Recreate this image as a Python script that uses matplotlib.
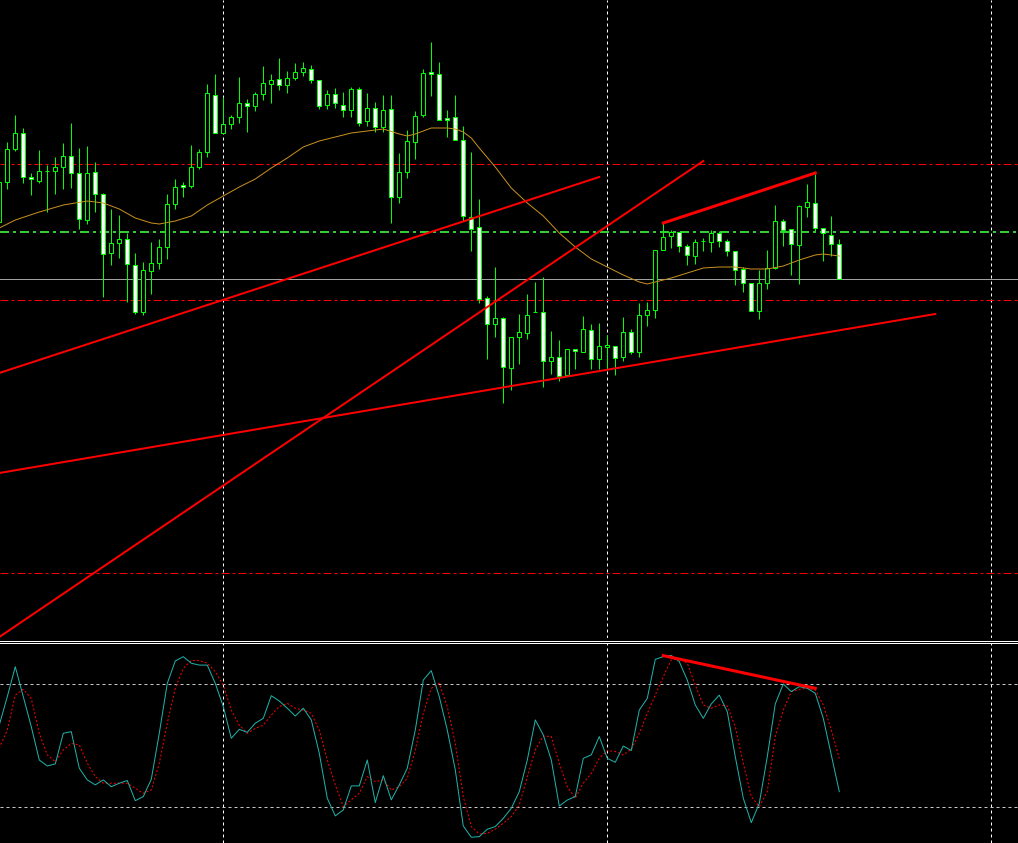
import matplotlib
matplotlib.use('Agg')
import matplotlib.pyplot as plt
from matplotlib.lines import Line2D

plt.rcParams['lines.scale_dashes'] = False
PX = 0.72  # one screen pixel in points at dpi 100

# candles, bar 0 = leftmost bar on screen
opens = [1.1418, 1.1458, 1.1491, 1.1507, 1.1463, 1.1459, 1.1469, 1.1469, 1.1473, 1.1484,
         1.1467, 1.1420, 1.1468, 1.1446, 1.1387, 1.1397, 1.1401, 1.1375, 1.1328, 1.1369,
         1.1377, 1.1393, 1.1436, 1.1455, 1.1454, 1.1473, 1.1488, 1.1545, 1.1507, 1.1516,
         1.1523, 1.1537, 1.1534, 1.1546, 1.1556, 1.1561, 1.1555, 1.1562, 1.1568, 1.1571,
         1.1560, 1.1535, 1.1546, 1.1535, 1.1530, 1.1551, 1.1519, 1.1532, 1.1513, 1.1531,
         1.1443, 1.1468, 1.1498, 1.1525, 1.1568, 1.1566, 1.1522, 1.1523, 1.1500, 1.1423,
         1.1413, 1.1342, 1.1316, 1.1322, 1.1272, 1.1303, 1.1307, 1.1328, 1.1328, 1.1279,
         1.1283, 1.1265, 1.1291, 1.1288, 1.1310, 1.1281, 1.1293, 1.1294, 1.1283, 1.1308,
         1.1288, 1.1325, 1.1330, 1.1390, 1.1404, 1.1408, 1.1394, 1.1384, 1.1399, 1.1398,
         1.1407, 1.1399, 1.1389, 1.1371, 1.1357, 1.1329, 1.1357, 1.1372, 1.1419, 1.1411,
         1.1395, 1.1433, 1.1437, 1.1412, 1.1405, 1.1396]
highs = [1.1460, 1.1498, 1.1525, 1.1512, 1.1467, 1.1490, 1.1475, 1.1483, 1.1497, 1.1517,
         1.1492, 1.1494, 1.1478, 1.1447, 1.1431, 1.1425, 1.1407, 1.1387, 1.1378, 1.1398,
         1.1401, 1.1446, 1.1461, 1.1458, 1.1495, 1.1491, 1.1556, 1.1566, 1.1543, 1.1525,
         1.1563, 1.1541, 1.1548, 1.1574, 1.1566, 1.1582, 1.1569, 1.1577, 1.1578, 1.1575,
         1.1560, 1.1550, 1.1552, 1.1548, 1.1553, 1.1553, 1.1547, 1.1538, 1.1545, 1.1545,
         1.1487, 1.1510, 1.1529, 1.1571, 1.1598, 1.1578, 1.1530, 1.1545, 1.1514, 1.1488,
         1.1441, 1.1344, 1.1373, 1.1323, 1.1303, 1.1326, 1.1346, 1.1358, 1.1363, 1.1309,
         1.1300, 1.1291, 1.1291, 1.1324, 1.1316, 1.1317, 1.1305, 1.1294, 1.1323, 1.1311,
         1.1337, 1.1338, 1.1390, 1.1417, 1.1410, 1.1408, 1.1396, 1.1401, 1.1402, 1.1410,
         1.1409, 1.1401, 1.1389, 1.1373, 1.1357, 1.1370, 1.1390, 1.1435, 1.1421, 1.1411,
         1.1435, 1.1456, 1.1466, 1.1412, 1.1424, 1.1401]
lows = [1.1415, 1.1451, 1.1489, 1.1457, 1.1445, 1.1457, 1.1428, 1.1446, 1.1451, 1.1452,
        1.1411, 1.1416, 1.1428, 1.1343, 1.1375, 1.1382, 1.1338, 1.1326, 1.1325, 1.1346,
        1.1371, 1.1381, 1.1431, 1.1443, 1.1452, 1.1471, 1.1483, 1.1507, 1.1507, 1.1511,
        1.1517, 1.1508, 1.1529, 1.1540, 1.1537, 1.1550, 1.1547, 1.1560, 1.1564, 1.1557,
        1.1531, 1.1531, 1.1532, 1.1523, 1.1523, 1.1514, 1.1514, 1.1508, 1.1508, 1.1417,
        1.1437, 1.1462, 1.1481, 1.1523, 1.1544, 1.1520, 1.1503, 1.1500, 1.1419, 1.1389,
        1.1337, 1.1281, 1.1303, 1.1237, 1.1250, 1.1276, 1.1301, 1.1328, 1.1253, 1.1266,
        1.1259, 1.1265, 1.1271, 1.1288, 1.1271, 1.1271, 1.1271, 1.1265, 1.1279, 1.1286,
        1.1283, 1.1314, 1.1322, 1.1390, 1.1392, 1.1388, 1.1375, 1.1376, 1.1389, 1.1388,
        1.1393, 1.1384, 1.1355, 1.1348, 1.1329, 1.1321, 1.1351, 1.1371, 1.1394, 1.1365,
        1.1356, 1.1423, 1.1409, 1.1379, 1.1384, 1.1361]
closes = [1.1458, 1.1491, 1.1507, 1.1463, 1.1461, 1.1469, 1.1469, 1.1473, 1.1484, 1.1467,
          1.1421, 1.1467, 1.1446, 1.1386, 1.1397, 1.1401, 1.1376, 1.1328, 1.1370, 1.1377,
          1.1393, 1.1436, 1.1453, 1.1453, 1.1473, 1.1488, 1.1547, 1.1507, 1.1516, 1.1523,
          1.1537, 1.1534, 1.1546, 1.1557, 1.1560, 1.1555, 1.1562, 1.1568, 1.1572, 1.1560,
          1.1534, 1.1546, 1.1537, 1.1530, 1.1551, 1.1517, 1.1532, 1.1513, 1.1530, 1.1443,
          1.1468, 1.1499, 1.1524, 1.1567, 1.1566, 1.1520, 1.1520, 1.1500, 1.1424, 1.1411,
          1.1341, 1.1316, 1.1322, 1.1273, 1.1303, 1.1308, 1.1325, 1.1328, 1.1279, 1.1283,
          1.1264, 1.1291, 1.1289, 1.1311, 1.1281, 1.1294, 1.1295, 1.1282, 1.1308, 1.1288,
          1.1325, 1.1330, 1.1390, 1.1403, 1.1408, 1.1394, 1.1385, 1.1398, 1.1399, 1.1407,
          1.1399, 1.1389, 1.1370, 1.1357, 1.1329, 1.1357, 1.1372, 1.1419, 1.1410, 1.1396,
          1.1434, 1.1438, 1.1412, 1.1407, 1.1396, 1.1361]

# moving average read at some bars
ma_bars = [0, 2, 5, 8, 11, 13, 15, 17, 19, 20, 22, 24, 26, 28, 30, 32, 34, 36, 38, 40,
           42, 44, 46, 48, 50, 51, 52, 54, 56, 57, 58, 59, 60, 62, 64, 66, 68, 70, 72, 74,
           76, 78, 80, 81, 82, 84, 86, 88, 90, 92, 94, 96, 98, 100, 102, 103, 105]
ma_vals = [1.1412, 1.1420, 1.1428, 1.1435, 1.1439, 1.1437, 1.1431, 1.1422, 1.1417, 1.1416,
           1.1419, 1.1424, 1.1435, 1.1444, 1.1453, 1.1461, 1.1472, 1.1482, 1.1493, 1.1499,
           1.1503, 1.1507, 1.1509, 1.1511, 1.1506, 1.1504, 1.1506, 1.1512, 1.1512, 1.1511,
           1.1508, 1.1502, 1.1492, 1.1473, 1.1452, 1.1437, 1.1424, 1.1407, 1.1393, 1.1381,
           1.1373, 1.1365, 1.1358, 1.1356, 1.1358, 1.1362, 1.1367, 1.1372, 1.1373, 1.1373,
           1.1371, 1.1371, 1.1374, 1.1380, 1.1385, 1.1386, 1.1384]

# stochastic oscillator, one value per bar
stoch_main = [60.0, 73.8, 88.4, 73.8, 59.2, 43.0, 40.1, 41.1, 56.0, 56.8,
              39.0, 33.3, 30.9, 33.3, 30.0, 31.7, 33.0, 23.2, 25.2, 33.6,
              56.0, 80.3, 91.2, 93.3, 90.1, 89.2, 89.2, 80.3, 69.0, 53.6,
              57.9, 56.5, 60.9, 63.3, 74.3, 71.7, 68.2, 64.4, 68.2, 62.5,
              46.3, 24.4, 15.8, 18.7, 30.4, 30.4, 43.0, 22.3, 35.4, 23.6,
              30.9, 39.0, 57.6, 81.9, 86.5, 73.8, 57.6, 38.2, 10.9, 5.4,
              5.7, 9.3, 10.6, 14.6, 19.5, 27.6, 43.0, 62.5, 55.2, 43.0,
              20.6, 23.5, 25.2, 43.8, 45.5, 54.4, 43.8, 41.9, 49.8, 47.6,
              67.3, 73.0, 92.0, 93.3, 93.9, 90.9, 81.9, 69.8, 63.3, 70.3,
              74.6, 66.5, 44.6, 24.4, 12.5, 21.9, 44.6, 70.3, 80.0, 76.3,
              78.7, 77.9, 75.5, 63.3, 45.5, 27.6]
stoch_signal = [48.7, 57.6, 74.6, 77.4, 73.0, 56.0, 45.5, 42.2, 47.9, 51.1,
                50.3, 41.4, 34.9, 31.7, 31.7, 31.7, 31.7, 29.2, 26.8, 28.4,
                41.4, 60.9, 77.9, 87.6, 91.4, 91.4, 90.1, 86.0, 79.5, 67.3,
                60.0, 56.0, 58.4, 60.0, 64.9, 69.0, 70.6, 68.2, 67.3, 65.7,
                57.6, 43.0, 30.9, 20.3, 23.6, 26.8, 34.9, 32.5, 33.3, 28.4,
                30.0, 34.1, 47.9, 65.7, 77.9, 80.3, 69.0, 51.1, 25.2, 10.6,
                7.0, 7.3, 9.3, 12.2, 15.4, 21.1, 34.9, 47.9, 54.7, 54.4,
                41.4, 30.0, 24.4, 31.7, 36.5, 43.8, 47.6, 47.1, 45.5, 48.2,
                56.0, 65.7, 74.6, 83.6, 91.7, 92.5, 90.1, 79.5, 69.8, 68.2,
                69.8, 69.3, 59.2, 41.4, 25.2, 20.3, 27.6, 54.4, 67.3, 76.3,
                77.4, 77.9, 77.1, 69.8, 57.6, 43.8]

# horizontal objects on the price chart
red_levels = [1.1476, 1.1340, 1.1067]
green_level = 1.1408
bid_price = 1.1361

# trend lines as (bar, price) pairs
trend_lines = [((0, 1.1267), (75, 1.1463)),
               ((0, 1.1003), (88, 1.1479)),
               ((0, 1.1167), (117, 1.1326))]
price_div_line = ((83, 1.1417), (102, 1.1467))
stoch_div_line = ((83, 93.8), (102, 77.9))

grid_bars = [28, 76, 124]
stoch_levels = [80, 20]

fig = plt.figure(figsize=(10.18, 8.43), dpi=100, facecolor='black')
ax = fig.add_axes([0, 205 / 843, 1, 638 / 843])
ax2 = fig.add_axes([0, 0, 1, 200 / 843])
for a in (ax, ax2):
    a.set_xlim(0.09, 127.34)
    a.axis('off')
    for b in grid_bars:
        a.axvline(b, color='white', lw=PX, dashes=(3 * PX, 3 * PX), zorder=1)
ax.set_ylim(1.1002, 1.1640)
ax2.set_ylim(2.6, 99.95)

# price panel
for lv in red_levels:
    ax.axhline(lv, color='red', lw=PX, dashes=(8 * PX, 3 * PX, 3 * PX, 3 * PX), zorder=2)
ax.axhline(green_level, color='#32CD32', lw=2 * PX, dashes=(9 * PX, 4 * PX, 3 * PX, 4 * PX), zorder=2)
ax.axhline(bid_price, color='#A0A0A0', lw=PX, zorder=2)

bars = list(range(len(opens)))
ax.vlines(bars, lows, highs, color='#00FF00', lw=PX, zorder=3)
bottoms = [min(o, c) for o, c in zip(opens, closes)]
heights = [abs(c - o) for o, c in zip(opens, closes)]
faces = ['white' if c < o else 'black' for o, c in zip(opens, closes)]
ax.bar(bars, heights, bottom=bottoms, width=0.55, color=faces, edgecolor='#00FF00',
       linewidth=PX, zorder=4)

ax.plot(ma_bars, ma_vals, color='#C8901E', lw=PX, zorder=5)

for (b0, p0), (b1, p1) in trend_lines:
    ax.plot([b0, b1], [p0, p1], color='red', lw=2 * PX, zorder=6)
(b0, p0), (b1, p1) = price_div_line
ax.plot([b0, b1], [p0, p1], color='red', lw=3 * PX, zorder=6)

# stochastic panel
for lv in stoch_levels:
    ax2.axhline(lv, color='#C8C8C8', lw=PX, dashes=(3 * PX, 3 * PX), zorder=1)
ax2.plot(bars, stoch_signal, color='red', lw=PX, dashes=(2 * PX, 2 * PX), zorder=3)
ax2.plot(bars, stoch_main, color='#20B2AA', lw=PX, zorder=4)
(b0, v0), (b1, v1) = stoch_div_line
ax2.plot([b0, b1], [v0, v1], color='red', lw=3 * PX, zorder=5)

# double separator between the two windows
for yy in (640.5, 642.5):
    fig.add_artist(Line2D([0, 1], [(843 - yy) / 843] * 2, color='white', lw=PX,
                          antialiased=False))

fig.savefig('out.png', dpi=100, facecolor='black')
